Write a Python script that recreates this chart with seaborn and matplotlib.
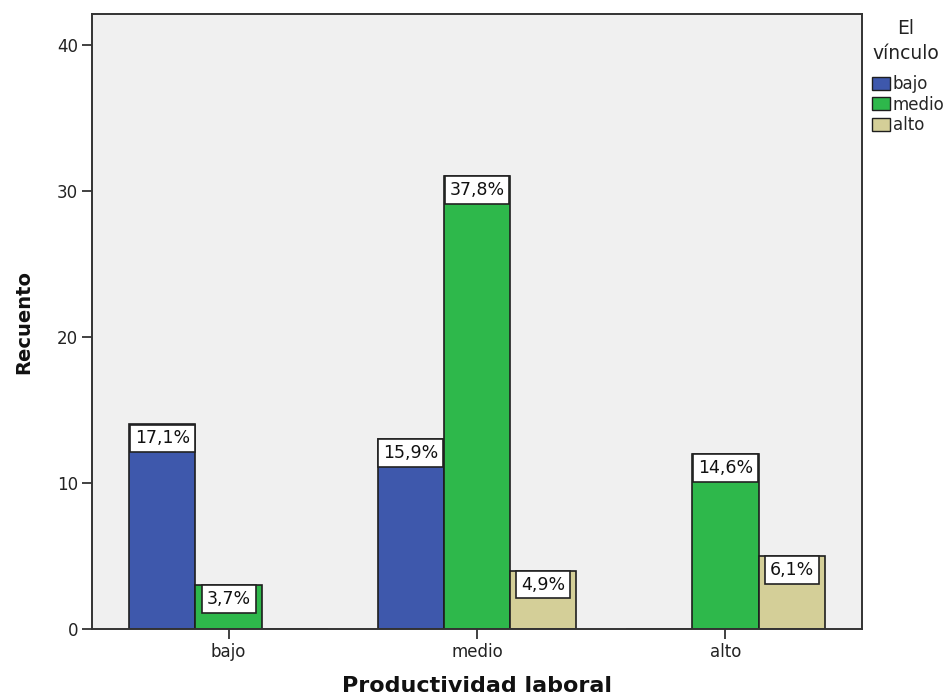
import matplotlib
matplotlib.use("Agg")
import matplotlib.pyplot as plt
import seaborn as sns
import pandas as pd
from matplotlib.patches import Patch

# Cross-tab counts: Productividad laboral (x) by El vínculo (hue)
productividad = ["bajo", "medio", "alto"]
vinculo = ["bajo", "medio", "alto"]
recuento_bajo = [14, 13, 0]
recuento_medio = [3, 31, 12]
recuento_alto = [0, 4, 5]

colores = {"bajo": "#3E58AC", "medio": "#2EB84B", "alto": "#D4CF98"}

rows = []
for nivel, serie in zip(vinculo, [recuento_bajo, recuento_medio, recuento_alto]):
    for prod, n in zip(productividad, serie):
        rows.append({"Productividad laboral": prod, "El vínculo": nivel, "Recuento": n})
df = pd.DataFrame(rows)
total = df["Recuento"].sum()

sns.set_theme(style="white")
plt.rcParams["font.family"] = ["DejaVu Sans"]

fig = plt.figure(figsize=(9.51, 6.95), dpi=100)
ax = fig.add_axes([92 / 951, 66 / 695, 770 / 951, 615 / 695])
ax.set_facecolor("#F0F0F0")

sns.barplot(
    data=df, x="Productividad laboral", y="Recuento", hue="El vínculo",
    order=productividad, hue_order=vinculo, palette=colores, saturation=1,
    width=0.8, gap=0, edgecolor="#1E1E1E", linewidth=1.2,
    legend=False, ax=ax, errorbar=None,
)

# Percentage labels (of the grand total) boxed at the top of each bar
for container, nivel in zip(ax.containers, vinculo):
    for bar in container:
        h = bar.get_height()
        if h <= 0:
            continue
        pct = f"{h / total * 100:.1f}%".replace(".", ",")
        ax.annotate(
            pct, xy=(bar.get_x() + bar.get_width() / 2, h),
            xytext=(0, -3.6), textcoords="offset points",
            ha="center", va="top", fontsize=12.5, color="#111111",
            bbox=dict(boxstyle="square,pad=0.28", fc="white", ec="#222222", lw=1.2),
            zorder=5,
        )

ax.set_xlim(-0.55, 2.55)
ax.set_ylim(0, 42.1)
ax.set_yticks([0, 10, 20, 30, 40])
ax.tick_params(axis="both", which="major", direction="out", length=7, width=1.3,
               color="#333333", labelsize=12, labelcolor="#222222", pad=3,
               bottom=True, left=True)
for s in ax.spines.values():
    s.set_color("#333333")
    s.set_linewidth(1.4)

ax.set_xlabel("Productividad laboral", fontsize=16, fontweight="bold",
              labelpad=11, color="#111111")
ax.set_ylabel("Recuento", fontsize=14, fontweight="bold", labelpad=17,
              color="#111111")

# Legend: title set above the colour key
fig.text(906 / 951, 1 - 41 / 695, "El\nvínculo", ha="center", va="center",
         fontsize=13.5, color="#222222", linespacing=1.35)
handles = [Patch(facecolor=colores[n], edgecolor="#1E1E1E", linewidth=1.0, label=n)
           for n in vinculo]
fig.legend(
    handles=handles, loc="upper left",
    bbox_to_anchor=(872 / 951, 1 - 75 / 695), frameon=False,
    fontsize=12, handlelength=1.05, handleheight=0.85,
    handletextpad=0.2, labelspacing=0.15, borderaxespad=0, borderpad=0,
)

fig.savefig("out.png", dpi=100)
